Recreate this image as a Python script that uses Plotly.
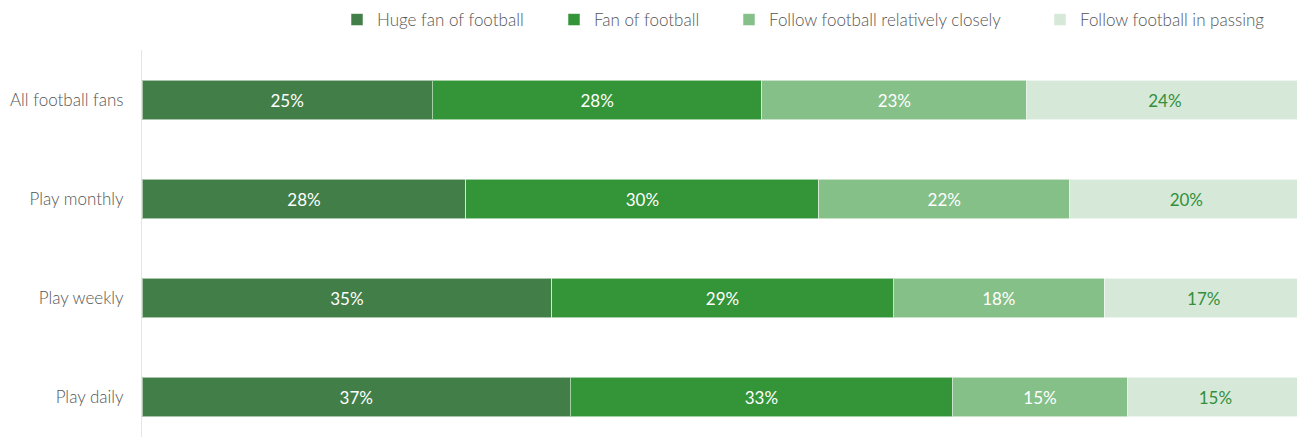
import plotly.graph_objects as go

categories = ["All football fans", "Play monthly", "Play weekly", "Play daily"]
series_names = [
    "Huge fan of football",
    "Fan of football",
    "Follow football relatively closely",
    "Follow football in passing",
]
huge_fan = [25.0, 27.9, 35.3, 36.9]
fan = [28.4, 30.4, 29.4, 32.9]
follow_closely = [22.8, 21.6, 18.2, 15.1]
follow_passing = [23.8, 20.1, 17.1, 15.1]

series_values = [huge_fan, fan, follow_closely, follow_passing]
colors = ["#427e47", "#339438", "#85c088", "#d6e9d9"]
text_colors = ["#ffffff", "#ffffff", "#ffffff", "#338f39"]
legend_ids = ["legend", "legend2", "legend3", "legend4"]
# screen x where each legend text starts in the reference
legend_text_x = [377, 594, 769, 1080]

FONT = "Lato"
PAGE_OFFSET = 8  # default body margin of the html page
PLOT_L, PLOT_R = 142, 1303
PLOT_T = 50

fig = go.Figure()
for name, vals, col, tcol, lid in zip(series_names, series_values, colors, text_colors, legend_ids):
    fig.add_trace(go.Bar(
        y=categories,
        x=vals,
        name=name,
        orientation="h",
        legend=lid,
        showlegend=True,
        marker=dict(color=col, line=dict(color="rgba(255,255,255,0.55)", width=1)),
        texttemplate="%{x:.0f}%",
        textposition="inside",
        insidetextanchor="middle",
        textfont=dict(family=FONT, size=17, color=tcol, weight=400),
        hoverinfo="skip",
    ))

layout_legends = {}
for lid, tx in zip(legend_ids, legend_text_x):
    layout_legends[lid] = dict(
        orientation="h",
        x=(tx - 40 - PLOT_L) / (PLOT_R - PLOT_L),
        xanchor="left",
        y=1 + (PLOT_T - 20) / 387,
        yanchor="middle",
        font=dict(family=FONT, size=17, color="#555555", weight=300),
        bgcolor="rgba(0,0,0,0)",
        borderwidth=0,
    )

fig.update_layout(
    width=1305 - PAGE_OFFSET,
    height=437 - PAGE_OFFSET,
    barmode="stack",
    bargap=0.6,
    showlegend=True,
    plot_bgcolor="white",
    paper_bgcolor="white",
    margin=dict(l=PLOT_L - PAGE_OFFSET, r=2, t=PLOT_T - PAGE_OFFSET, b=0, autoexpand=False),
    font=dict(family=FONT, size=17, color="#555555", weight=300),
    uniformtext=dict(mode="show", minsize=16),
    **layout_legends,
)
fig.update_xaxes(
    range=[0, 100],
    showgrid=False,
    zeroline=False,
    showticklabels=False,
    showline=False,
    automargin=False,
)
fig.update_yaxes(
    categoryorder="array",
    categoryarray=categories,
    range=[3.404, -0.505],
    showgrid=False,
    zeroline=False,
    showline=True,
    linecolor="#d8eed8",
    linewidth=1,
    ticks="",
    ticklabelstandoff=14,
    automargin=False,
    tickfont=dict(family=FONT, size=17, color="#555555", weight=300),
)

fig.write_html("out.html")
